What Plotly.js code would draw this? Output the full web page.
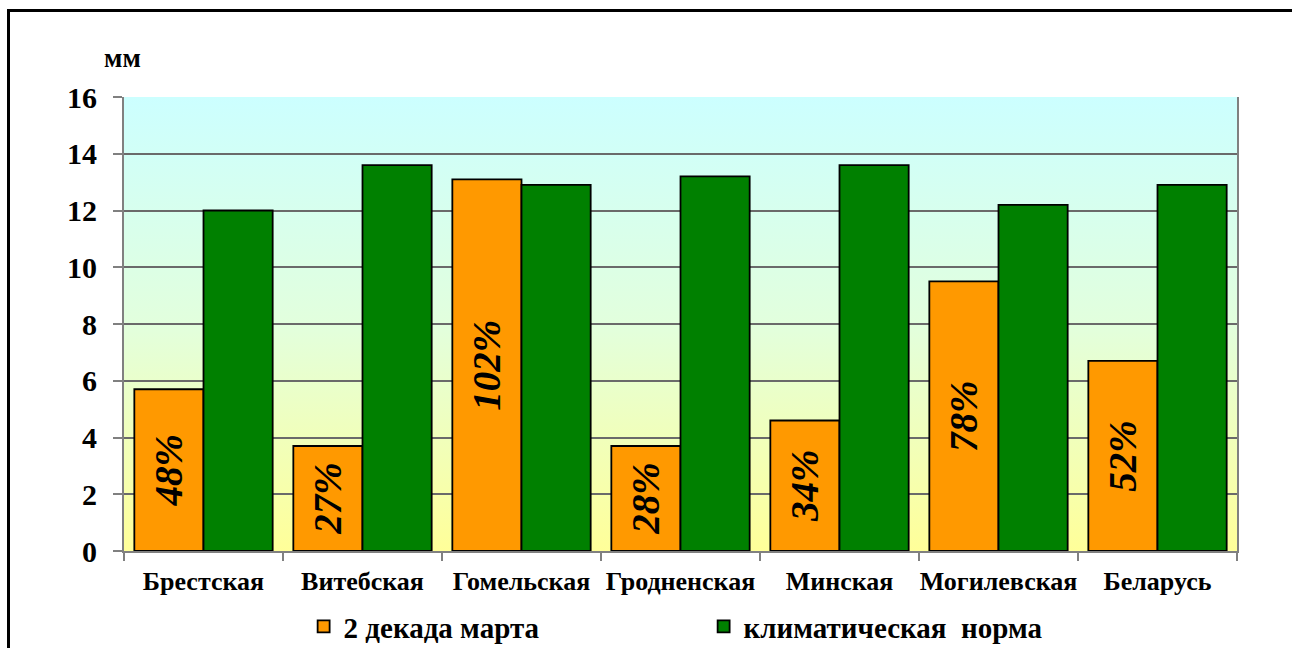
<!DOCTYPE html>
<html>
<head>
<meta charset="utf-8">
<script src="https://cdn.plot.ly/plotly-3.0.1.min.js"></script>
<style>
  html, body { margin: 0; padding: 0; width: 1292px; height: 648px; overflow: hidden; background: #fff; }
  #frame { position: absolute; left: 7px; top: 9px; width: 1400px; height: 800px; border: 3px solid #000; }
  #chart { position: absolute; left: 0; top: 0; width: 1292px; height: 648px; }
</style>
</head>
<body>
<div id="frame"></div>
<div id="chart"></div>
<script>
const categories = ['Брестская', 'Витебская', 'Гомельская', 'Гродненская', 'Минская', 'Могилевская', 'Беларусь'];
const decade2March = [5.7, 3.7, 13.1, 3.7, 4.6, 9.5, 6.7];
const climateNorm = [12.0, 13.6, 12.9, 13.2, 13.6, 12.2, 12.9];
const percentLabels = ['48%', '27%', '102%', '28%', '34%', '78%', '52%'];
const seriesNames = ['2 декада марта', 'климатическая  норма'];
const yTickValues = [0, 2, 4, 6, 8, 10, 12, 14, 16];
const unitLabel = 'мм';

const serif = 'Liberation Serif, Times New Roman, serif';

const gradSvg = '<svg xmlns="http://www.w3.org/2000/svg" width="100" height="100" preserveAspectRatio="none">' +
  '<defs><linearGradient id="g" x1="0" y1="0" x2="0" y2="1">' +
  '<stop offset="0" stop-color="#CCFFFF"/><stop offset="0.5" stop-color="#E2FFDD"/><stop offset="1" stop-color="#FFFF99"/>' +
  '</linearGradient></defs><rect width="100" height="100" fill="url(#g)"/></svg>';
const gradUri = 'data:image/svg+xml;base64,' + btoa(gradSvg);

const traces = [
  {
    type: 'bar', name: seriesNames[0], x: categories, y: decade2March,
    marker: { color: '#FF9900', line: { color: '#000', width: 1.8 } },
    text: percentLabels, textposition: 'inside', insidetextanchor: 'middle', textangle: -90,
    textfont: { family: serif, size: 39, weight: 'bold', style: 'italic', color: '#000' },
    hoverinfo: 'skip'
  },
  {
    type: 'bar', name: seriesNames[1], x: categories, y: climateNorm,
    marker: { color: '#008000', line: { color: '#000', width: 1.8 } },
    hoverinfo: 'skip'
  }
];

const layout = {
  width: 1292, height: 648,
  margin: { l: 124, r: 55, t: 97, b: 97 },
  paper_bgcolor: 'rgba(0,0,0,0)',
  plot_bgcolor: 'rgba(0,0,0,0)',
  barmode: 'group', bargap: 0.13, bargroupgap: 0,
  font: { family: serif, color: '#000' },
  showlegend: true,
  legend: {
    orientation: 'h', xref: 'container', yref: 'container',
    x: 0.235, y: 0.033, xanchor: 'left', yanchor: 'middle',
    font: { family: serif, size: 29, weight: 'bold', color: '#000' },
    entrywidth: 355, traceorder: 'normal', bgcolor: 'rgba(0,0,0,0)'
  },
  xaxis: {
    type: 'category', showline: true, linecolor: '#808080', linewidth: 2,
    ticks: 'outside', tickson: 'boundaries', ticklen: 8, tickcolor: '#808080', tickwidth: 2,
    tickangle: 0,
    tickfont: { family: serif, size: 26, weight: 'bold', color: '#000' },
    ticklabelstandoff: 6,
    showgrid: false, mirror: false
  },
  yaxis: {
    range: [0, 16], tickvals: yTickValues, showline: true, linecolor: '#808080', linewidth: 2,
    mirror: true, ticks: 'outside', ticklen: 9, tickcolor: '#808080', tickwidth: 2,
    gridcolor: '#6A6A6A', gridwidth: 2, zeroline: false,
    ticklabelstandoff: 10,
    tickfont: { family: serif, size: 30, weight: 'bold', color: '#000' }
  },
  images: [{
    source: gradUri, xref: 'paper', yref: 'paper', x: 0, y: 1, sizex: 1, sizey: 1,
    sizing: 'stretch', layer: 'below', xanchor: 'left', yanchor: 'top'
  }],
  annotations: [{
    text: unitLabel, xref: 'paper', yref: 'paper', x: -0.0015, y: 1.085,
    xanchor: 'center', yanchor: 'middle', showarrow: false,
    font: { family: serif, size: 27, weight: 'bold', color: '#000' }
  }]
};

Plotly.newPlot('chart', traces, layout, { displayModeBar: false, staticPlot: true });
</script>
</body>
</html>
